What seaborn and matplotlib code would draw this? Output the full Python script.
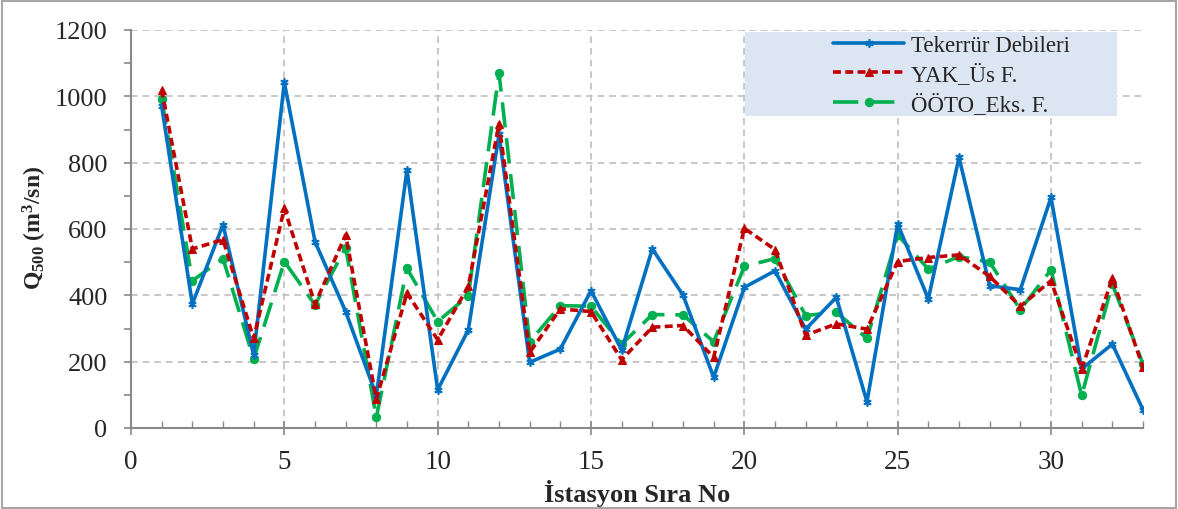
import matplotlib
matplotlib.use("Agg")
import matplotlib.pyplot as plt
from matplotlib.patches import Rectangle
from matplotlib.ticker import MultipleLocator
import seaborn as sns
import pandas as pd

stations = list(range(1, 34))
tekerrur = [971, 374, 613, 220, 1042, 562, 351, 98, 778, 115, 296, 885, 198, 238, 414,
            235, 540, 401, 153, 424, 474, 298, 394, 79, 615, 389, 816, 429, 417, 695,
            178, 253, 55]
yak = [1020, 540, 568, 270, 662, 374, 582, 87, 407, 266, 427, 917, 228, 359, 351,
       206, 304, 309, 213, 602, 538, 280, 314, 298, 502, 514, 522, 457, 367, 444,
       178, 451, 183]
ooto = [992, 444, 511, 208, 502, 371, 544, 32, 481, 321, 399, 1070, 260, 369, 367,
        253, 342, 341, 260, 487, 511, 339, 349, 270, 582, 479, 517, 500, 357, 477,
        98, 434, 193]
labels = ["Tekerrür Debileri", "YAK_Üs F.", "ÖÖTO_Eks. F."]

sns.set_theme(style="white")
plt.rcParams['font.family'] = ['Liberation Serif', 'DejaVu Serif']
plt.rcParams['mathtext.fontset'] = 'custom'
plt.rcParams['mathtext.rm'] = 'Liberation Serif'
plt.rcParams['mathtext.bf'] = 'Liberation Serif:bold'
plt.rcParams['mathtext.it'] = 'Liberation Serif:italic'

fig = plt.figure(figsize=(11.78, 5.10), dpi=100)
ax = fig.add_axes([131/1178, 1-429/510, (1143-131)/1178, (429-31)/510])

df = pd.DataFrame({"x": stations, "a": tekerrur, "b": yak, "c": ooto})

sns.lineplot(data=df, x="x", y="a", ax=ax, color="#0070C0", linewidth=2.6,
             marker=(6, 2, 0), markersize=6, markeredgewidth=1.2,
             markeredgecolor="#0070C0", label=labels[0], zorder=3)
sns.lineplot(data=df, x="x", y="b", ax=ax, color="#C00000", linewidth=2.6,
             marker="^", markersize=6, markeredgecolor="#C00000",
             label=labels[1], zorder=4)
sns.lineplot(data=df, x="x", y="c", ax=ax, color="#00B050", linewidth=2.6,
             marker="o", markersize=6, markeredgecolor="#00B050",
             label=labels[2], zorder=2.5)
lines = ax.get_lines()
lines[1].set_dashes([2.2, 1.2])
lines[2].set_dashes([7, 3])

ax.set_xlim(0, 33)
ax.set_ylim(0, 1200)
ax.xaxis.set_major_locator(MultipleLocator(5))
ax.xaxis.set_minor_locator(MultipleLocator(1))
ax.yaxis.set_major_locator(MultipleLocator(200))
ax.yaxis.set_minor_locator(MultipleLocator(100))

ax.grid(True, which="major", color="#BFBFBF", linestyle=(0, (4, 3)), linewidth=1.2)
for s in ["top", "right"]:
    ax.spines[s].set_visible(False)
for s in ["left", "bottom"]:
    ax.spines[s].set_color("#898989")
    ax.spines[s].set_linewidth(1.5)

ax.tick_params(axis="x", which="major", direction="inout", length=10, width=1.2,
               color="#898989", labelsize=19.5, pad=10, bottom=True)
ax.tick_params(axis="x", which="minor", direction="in", length=5, width=1.0,
               color="#898989", bottom=True)
ax.tick_params(axis="y", which="both", direction="out", length=5, width=1.2,
               color="#898989", labelsize=19, pad=12, left=True)

ax.set_xlabel("İstasyon Sıra No", fontsize=19, fontweight="bold", labelpad=4)
ax.set_ylabel(r"$\mathbf{Q_{500}}$ $\mathbf{(m^{3}/sn)}$", fontsize=17)
ax.yaxis.set_label_coords((49-131)/1012, 0.505)

# legend background box
x0 = (745-131)/1012
y0 = (429-117)/398
ax.add_patch(Rectangle((x0, y0), (1117-745)/1012, (117-33)/398, transform=ax.transAxes,
                       facecolor="#DCE6F2", edgecolor="none", zorder=2))
leg = ax.legend(loc="upper left", bbox_to_anchor=((833-131)/1012, (429-36)/398),
                frameon=False, fontsize=16.5, handlelength=3.1, labelspacing=0.32,
                handletextpad=0.3, borderpad=0.0, borderaxespad=0.0)
leg.set_zorder(6)

fig.patches.append(Rectangle((0.002, 0.002), 0.996, 0.995, transform=fig.transFigure,
                             fill=False, edgecolor="#A6A6A6", linewidth=1.5))

fig.savefig("out.png", dpi=100)
